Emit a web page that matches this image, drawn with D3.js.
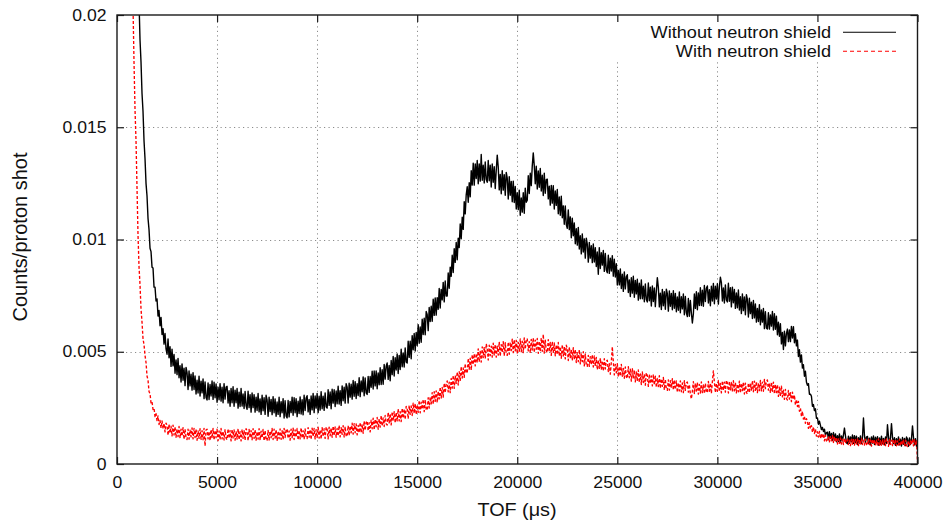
<!DOCTYPE html>
<html>
<head>
<meta charset="utf-8">
<script src="https://cdn.jsdelivr.net/npm/d3@7"></script>
<style>
  html, body { margin: 0; padding: 0; background: #fff; }
  svg { display: block; font-family: "Liberation Sans", Arial, Helvetica, sans-serif; }
</style>
</head>
<body>
<svg id="chart" width="949" height="522"></svg>
<script>
// Time-of-flight bins: first bin centre and bin width, in microseconds
const tofStart = 500;
const tofStep = 50;

// Counts per proton shot, in units of 1e-5, one value per 50 us bin (500 .. 40000 us)
const withoutShield = [
  5200,4800,4450,4100,3800,3500,3250,3000,2800,2620,2440,2250,2060,1890,1790,1650,1570,1440,1360,1250,
  1194,1094,1044,961,946,877,873,788,788,726,735,659,684,616,653,577,603,534,581,513,
  489,557,473,522,435,511,437,488,404,464,398,470,384,438,365,446,373,427,349,430,
  407,332,415,348,400,329,407,332,392,312,373,316,391,303,369,317,379,291,366,296,
  285,361,287,354,303,370,288,364,295,357,275,342,286,358,280,342,273,358,289,343,
  346,272,326,257,337,273,344,257,329,273,336,249,320,256,336,258,312,247,323,259,
  244,324,251,309,231,316,251,309,231,298,238,314,232,290,221,306,237,295,221,306,
  285,213,298,234,288,220,300,228,290,213,276,221,297,211,278,228,291,205,282,214,
  205,283,210,279,229,298,217,295,228,291,211,280,225,299,223,286,219,306,238,294,
  304,232,288,221,303,241,314,229,303,249,314,229,302,240,322,246,302,239,317,255,
  249,331,261,321,246,333,271,331,256,325,268,346,267,327,261,348,282,342,271,358,
  342,272,360,298,355,289,372,302,367,292,358,305,384,300,370,322,388,304,383,317,
  310,390,319,390,342,413,334,414,348,414,335,406,353,429,354,420,355,443,378,436,
  450,377,439,371,461,398,479,392,473,419,490,403,484,421,511,433,495,432,517,454,
  450,547,475,547,469,572,509,581,503,586,528,620,538,610,542,645,577,649,576,679,
  666,594,697,635,703,636,734,662,740,663,741,689,782,695,778,731,809,722,815,748,
  748,851,783,877,836,930,853,959,898,987,910,1006,964,1069,1003,1099,1045,1168,1114,1199,
  1235,1166,1253,1190,1306,1242,1340,1242,1337,1272,1352,1248,1337,1260,1379,1264,1331,1252,1345,1267,
  1255,1352,1262,1331,1234,1336,1255,1324,1227,1307,1376,1323,1221,1290,1204,1306,1220,1289,1197,1299,
  1273,1180,1280,1197,1259,1168,1260,1165,1236,1136,1208,1133,1220,1108,1185,1122,1208,1117,1229,1166,
  1175,1284,1205,1295,1240,1327,1386,1329,1248,1326,1225,1305,1233,1316,1216,1286,1196,1295,1206,1267,
  1269,1181,1237,1153,1241,1162,1240,1136,1216,1152,1223,1115,1189,1108,1193,1097,1150,1068,1149,1067,
  1050,1132,1044,1101,1008,1095,1017,1074,981,1048,975,1054,958,1017,936,1025,944,1003,917,1006,
  979,899,987,917,972,897,980,900,964,880,944,845,964,871,941,886,951,858,938,864,
  852,930,849,917,860,928,837,912,833,892,797,862,798,869,782,845,769,856,780,834,
  843,764,820,746,830,761,836,743,818,758,823,730,805,736,820,736,792,723,802,733,
  722,806,727,788,704,793,724,784,701,771,830,787,700,761,688,778,705,767,689,779,
  759,681,771,703,760,687,772,694,760,678,744,685,766,674,745,691,757,665,746,673,
  657,737,658,728,674,628,668,757,693,767,687,762,706,785,706,774,703,795,724,783,
  793,717,776,705,792,726,804,714,792,735,803,712,789,832,808,726,784,717,798,731,
  722,805,725,785,700,788,718,777,693,762,696,775,686,745,670,758,683,744,665,754,
  733,655,738,670,721,648,728,651,713,632,693,635,710,620,686,632,693,603,678,606,
  601,674,601,664,614,679,597,669,600,658,576,632,569,625,535,586,510,592,526,581,
  601,545,597,545,613,561,612,540,580,526,552,479,509,454,486,427,442,391,413,365,
  351,358,311,311,302,257,265,238,246,204,205,177,191,172,153,163,145,155,128,139,
  142,108,144,114,136,105,140,107,134,99,126,101,134,96,125,103,130,160,125,95,
  90,124,92,121,99,129,92,126,96,124,87,117,93,125,91,118,205,126,96,120,
  123,91,115,85,121,93,125,87,119,95,122,84,116,88,124,90,114,86,120,92,
  175,122,90,116,180,119,91,117,83,113,87,121,85,110,80,118,88,114,82,120,
  111,79,116,88,112,170,118,85,113,79,107
];

const withShield = [
  4000,3610,3240,2960,2640,2360,2040,1790,1580,1440,1230,1020,880,800,690,632,558,531,484,452,
  392,373,323,313,272,278,243,249,211,224,193,214,176,194,160,192,157,181,143,182,
  173,128,177,137,168,125,173,129,166,119,156,122,167,115,155,124,162,110,156,114,
  109,155,111,151,121,161,112,158,118,155,106,147,114,157,110,148,108,159,80,151,
  155,112,145,104,153,115,158,107,150,117,155,104,147,109,158,112,145,107,153,115,
  108,157,114,149,103,154,116,152,106,146,111,157,108,144,103,154,114,149,106,157,
  146,103,154,116,149,108,157,114,152,106,144,111,157,106,146,116,154,103,149,108,
  104,150,107,147,117,158,109,155,115,153,105,146,113,156,110,148,108,159,118,151,
  157,114,147,106,155,117,160,109,152,119,158,107,150,112,161,115,148,110,156,118,
  113,162,119,154,109,160,122,158,112,153,118,164,115,151,111,162,122,157,114,165,
  155,112,164,126,160,119,169,126,165,119,158,125,172,121,162,132,171,120,167,126,
  122,171,127,169,139,182,133,180,139,179,130,172,139,185,139,178,137,191,150,185,
  192,148,184,143,195,157,204,152,199,166,207,155,202,164,216,169,205,167,216,179,
  174,230,183,224,174,233,192,233,183,230,192,245,192,233,189,248,204,245,198,257,
  248,202,261,221,259,216,271,225,269,220,264,230,283,228,275,244,288,233,286,243,
  239,295,249,299,268,318,266,322,279,326,274,324,290,343,294,341,298,360,317,358,
  370,321,364,318,381,338,395,337,394,359,410,352,411,370,434,383,428,386,447,407,
  405,471,422,471,418,487,443,491,437,492,452,513,455,502,454,522,474,521,469,536,
  515,463,529,483,525,476,538,485,533,476,525,485,544,480,532,496,545,481,540,490,
  484,543,489,541,505,556,496,554,504,551,491,542,502,557,500,547,496,562,511,552,
  559,504,545,494,555,508,562,497,552,511,559,493,547,500,561,502,578,494,552,504,
  496,554,500,541,484,546,497,539,482,531,487,541,481,522,471,532,481,522,468,529,
  514,461,521,474,511,461,518,465,509,452,496,456,509,446,493,456,500,437,490,440,
  435,484,435,478,444,487,432,481,435,475,420,463,426,472,420,460,414,469,423,457,
  462,412,447,400,453,522,456,397,444,406,447,388,435,391,444,391,426,382,432,388,
  381,434,384,422,369,425,381,419,366,410,369,419,363,401,354,410,363,401,351,407,
  393,346,400,358,392,348,399,352,391,341,381,345,393,337,379,346,386,330,378,334,
  328,375,329,371,339,380,329,375,332,370,319,361,326,370,322,361,318,371,328,362,
  365,320,354,312,290,323,367,314,359,325,364,311,355,316,366,318,352,313,360,321,
  318,368,324,361,314,367,415,365,318,360,324,372,322,359,317,370,328,365,320,373,
  361,316,369,330,363,321,371,326,364,317,356,322,369,316,358,327,365,312,360,318,
  313,361,317,359,329,371,322,369,328,367,318,360,327,372,326,365,324,377,336,370,
  374,329,360,317,364,324,365,312,353,318,354,301,342,301,347,299,329,288,332,292,
  285,328,289,318,278,320,287,307,263,288,256,279,235,249,212,235,200,213,181,202,
  190,159,184,157,171,142,166,136,155,124,143,120,145,113,135,115,135,103,128,103,
  99,125,99,122,103,126,96,122,97,119,89,112,92,116,89,111,87,116,92,111,
  112,87,106,82,111,88,114,84,109,90,112,82,108,85,114,87,106,84,111,88,
  83,112,86,107,80,110,88,109,82,106,85,112,83,104,80,110,86,107,82,112,
  105,79,109,87,106,82,111,85,108,81,103,84,111,81,105,87,109,79,106,82,
  78,105,80,104,86,110,81,108,84,107,8
];

const valueUnit = 1e-5;

const xTicks = [0, 5000, 10000, 15000, 20000, 25000, 30000, 35000, 40000];
const yTicks = [0, 0.005, 0.01, 0.015, 0.02];
const yTickLabels = ["0", "0.005", "0.01", "0.015", "0.02"];
const seriesNames = ["Without neutron shield", "With neutron shield"];
const seriesColors = ["#000000", "#ff0000"];
const xTitle = "TOF (\u03bcs)";
const yTitle = "Counts/proton shot";

// ---- layout ----
const svg = d3.select("#chart");
const plot = { left: 117, right: 917.5, top: 15, bottom: 464 };
const stretch = 1.1;   // slightly wide lettering
const fontSize = 16;

const x = d3.scaleLinear().domain([0, 40000]).range([plot.left, plot.right]);
const y = d3.scaleLinear().domain([0, 0.02]).range([plot.bottom, plot.top]);

// ---- dotted grid ----
const grid = svg.append("g").attr("stroke", "#8c8c8c").attr("stroke-width", 1)
  .attr("stroke-dasharray", "1.2,3.3").attr("fill", "none");
grid.selectAll("line.gx").data(xTicks.slice(1, -1)).join("line")
  .attr("class", "gx")
  .attr("x1", d => Math.round(x(d)) + 0.5).attr("x2", d => Math.round(x(d)) + 0.5)
  .attr("y1", plot.bottom).attr("y2", plot.top);
grid.selectAll("line.gy").data(yTicks.slice(1, -1)).join("line")
  .attr("class", "gy")
  .attr("y1", d => Math.round(y(d)) + 0.5).attr("y2", d => Math.round(y(d)) + 0.5)
  .attr("x1", plot.left).attr("x2", plot.right);

// key area is opaque
svg.append("rect").attr("x", 600).attr("y", plot.top + 1)
  .attr("width", plot.right - 601).attr("height", 44).attr("fill", "#fff");

// ---- data ----
svg.append("clipPath").attr("id", "plotClip").append("rect")
  .attr("x", plot.left).attr("y", plot.top)
  .attr("width", plot.right - plot.left).attr("height", plot.bottom - plot.top);

const line = d3.line()
  .x((d, i) => x(tofStart + i * tofStep))
  .y(d => y(d * valueUnit));

const dataG = svg.append("g").attr("clip-path", "url(#plotClip)").attr("fill", "none");
dataG.append("path").datum(withoutShield)
  .attr("d", line).attr("stroke", seriesColors[0]).attr("stroke-width", 1.4)
  .attr("stroke-linejoin", "round");
dataG.append("path").datum(withShield)
  .attr("d", line).attr("stroke", seriesColors[1]).attr("stroke-width", 1.35)
  .attr("stroke-dasharray", "3,2").attr("stroke-linejoin", "round");

// ---- axes (ticks point inward on all four sides) ----
const tickLen = 7;
function styleAxis(g) {
  g.select(".domain").remove();
  g.selectAll(".tick line").attr("stroke", "#1a1a1a").attr("stroke-width", 1.2);
  g.selectAll(".tick text").attr("fill", "#111")
    .style("font-size", fontSize + "px")
    .style("font-family", "\"Liberation Sans\", Arial, Helvetica, sans-serif");
}

const xAxis = d3.axisBottom(x).tickValues(xTicks).tickFormat(d3.format("d"))
  .tickSizeInner(-tickLen).tickSizeOuter(0).tickPadding(12.5);
svg.append("g").attr("transform", `translate(0,${plot.bottom})`).call(xAxis).call(styleAxis)
  .selectAll(".tick text").attr("transform", `scale(${stretch},1)`);

const yAxis = d3.axisLeft(y).tickValues(yTicks).tickFormat((d, i) => yTickLabels[i])
  .tickSizeInner(-tickLen).tickSizeOuter(0).tickPadding(9.5);
svg.append("g").attr("transform", `translate(${plot.left},0)`).call(yAxis).call(styleAxis)
  .selectAll(".tick text").attr("transform", `scale(${stretch},1)`);

svg.append("g").attr("transform", `translate(0,${plot.top})`)
  .call(d3.axisTop(x).tickValues(xTicks).tickFormat("").tickSizeInner(-tickLen).tickSizeOuter(0))
  .call(styleAxis);
svg.append("g").attr("transform", `translate(${plot.right},0)`)
  .call(d3.axisRight(y).tickValues(yTicks).tickFormat("").tickSizeInner(-tickLen).tickSizeOuter(0))
  .call(styleAxis);

// frame
svg.append("rect")
  .attr("x", plot.left).attr("y", plot.top)
  .attr("width", plot.right - plot.left).attr("height", plot.bottom - plot.top)
  .attr("fill", "none").attr("stroke", "#1a1a1a").attr("stroke-width", 1.4);

// ---- titles ----
function label(txt, tx, ty, anchor, size, rotate) {
  return svg.append("text")
    .attr("transform", `translate(${tx},${ty})` + (rotate ? ` rotate(${rotate})` : ` scale(${stretch},1)`))
    .attr("text-anchor", anchor)
    .attr("fill", "#111")
    .style("font-size", size + "px")
    .text(txt);
}
label(xTitle, 517, 516, "middle", 18);
label(yTitle, 27, 237, "middle", 20, -90);

// ---- key ----
const keyRows = [37.7, 56.7];
seriesNames.forEach((name, i) => {
  label(name, 831, keyRows[i], "end", 16.5);
  svg.append("line")
    .attr("x1", 843).attr("x2", 896)
    .attr("y1", keyRows[i] - 5.5).attr("y2", keyRows[i] - 5.5)
    .attr("stroke", seriesColors[i]).attr("stroke-width", 1.1)
    .attr("stroke-dasharray", i === 1 ? "4,3" : null);
});
</script>
</body>
</html>
